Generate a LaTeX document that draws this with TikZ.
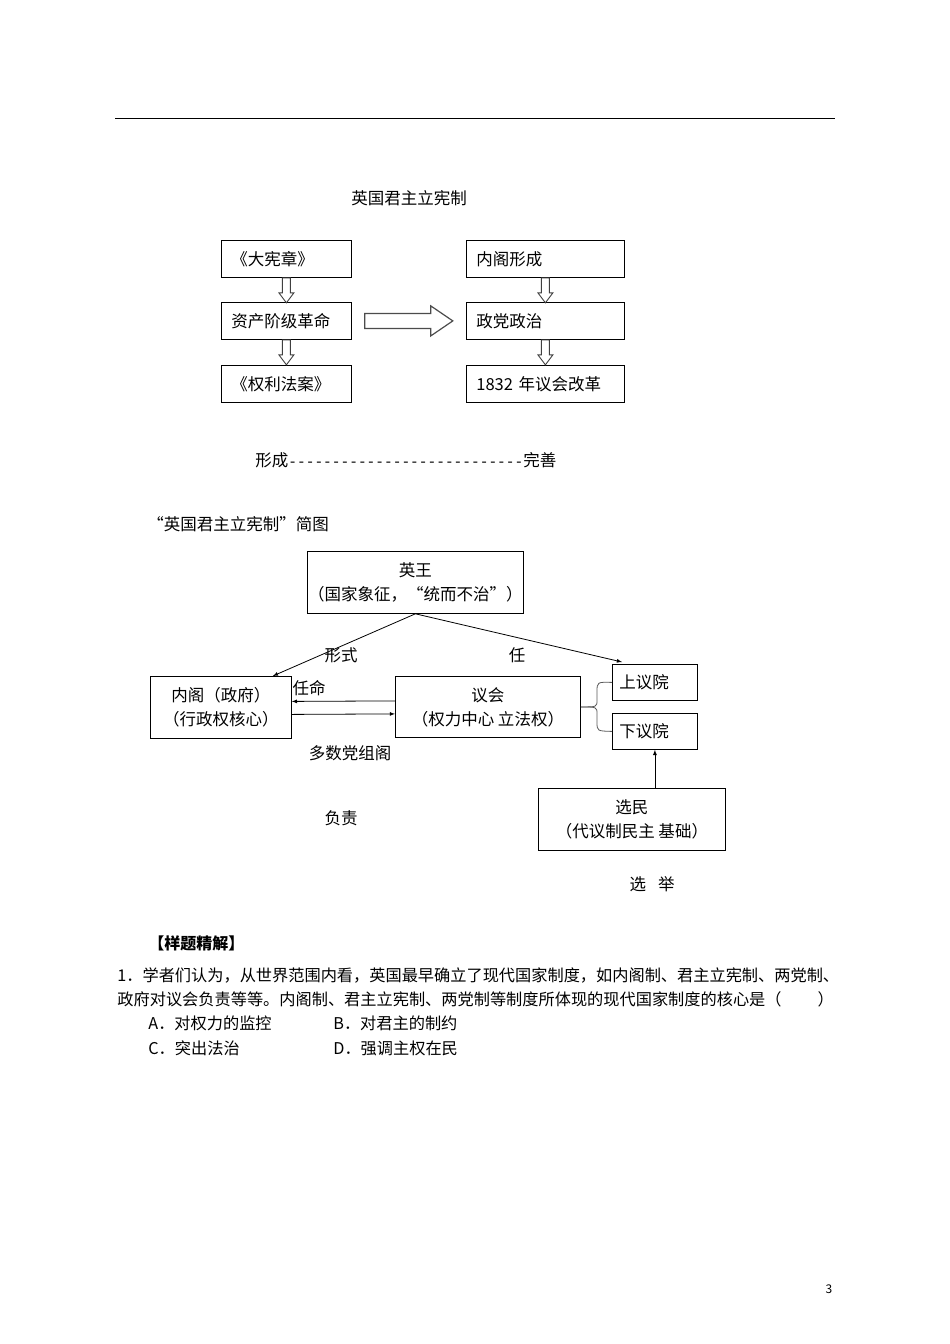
\documentclass[tikz,border=0pt]{standalone}
\usepackage{fontspec}
\setmainfont{Noto Sans CJK SC}
\newfontfamily\dashfont{Liberation Mono}
\usetikzlibrary{calc}

\tikzset{
  box/.style={draw, inner sep=0pt, anchor=north west},
  lbox/.style={box, minimum width=130pt, minimum height=37pt, text width=110pt, align=left, inner xsep=10pt},
  rbox/.style={box, minimum width=158pt, minimum height=37pt, text width=138pt, align=left, inner xsep=10pt},
  hbox/.style={box, minimum width=85pt, minimum height=36pt, text width=71pt, align=left, inner xsep=7pt},
  cbox/.style={box, align=center, inner sep=0pt, font=\fontsize{16.5}{24}\selectfont},
  label/.style={inner sep=0pt},
  hollowdown/.pic={
    \draw[gray!50!black, line width=0.9pt] (-4,0) -- (4,0) -- (4,15) -- (7.5,15)
      -- (0,25) -- (-7.5,15) -- (-4,15) -- cycle;
  },
  hollowright/.pic={
    \draw[gray!60!black, line width=1.2pt] (0,-7.5) -- (66,-7.5) -- (66,-15) -- (88,0)
      -- (66,15) -- (66,7.5) -- (0,7.5) -- cycle;
  }
}

\begin{document}
\begin{tikzpicture}[x=1pt, y=-1pt, line width=0.8pt,
    font=\fontsize{16.5}{22}\selectfont, >={latex}]
    \fill[white] (0,0) rectangle (950,1344);
    \useasboundingbox (0,0) rectangle (950,1344);
    % Header rule
    \draw (115,118) -- (835,118);
    % First chart
    \node[label] (title) at (409,198) {英国君主立宪制};
    \node[lbox] (dxz) at (221,240) {《大宪章》};
    \node[lbox] (zcgm) at (221,302) {资产阶级革命};
    \node[lbox] (qlfa) at (221,365) {《权利法案》};
    \node[rbox] (nbxc) at (466,240) {内阁形成};
    \node[rbox] (zdzz) at (466,302) {政党政治};
    \node[rbox] (yhgg) at (466,365) {1832 年议会改革};
    \pic at (dxz.south) {hollowdown};
    \pic at (zcgm.south) {hollowdown};
    \pic at (nbxc.south) {hollowdown};
    \pic at (zdzz.south) {hollowdown};
    \pic at ($(zcgm.east)+(13,0)$) {hollowright};
    \node[label, anchor=west] (xc) at (255,460) {形成{\dashfont\fontsize{14.5}{20}\selectfont ---------------------------}完善};
    % Second chart
    \node[label, anchor=west] (title2) at (147,524) {“英国君主立宪制”简图};
    \node[cbox, minimum width=216pt, minimum height=62pt] (king) at (307,551)
        {英王\\（国家象征，“统而不治”）};
    \node[cbox, minimum width=141pt, minimum height=62pt] (cab) at (150,676)
        {内阁（政府）\\（行政权核心）};
    \node[cbox, minimum width=185pt, minimum height=61pt] (parl) at (395,676)
        {议会\\（权力中心 立法权）};
    \node[hbox] (upper) at (612,664) {上议院};
    \node[hbox] (lower) at (612,713) {下议院};
    \node[cbox, minimum width=187pt, minimum height=62pt] (voter) at (538,788)
        {选民\\（代议制民主 基础）};
    % Labels
    \node[label] (xs) at (341,655) {形式};
    \node[label] (ren) at (517,655) {任};
    \node[label] (rm) at (309,688) {任命};
    \node[label] (dsd) at (350,753) {多数党组阁};
    \node[label] (fz) at (341,818) {负责};
    \node[label] (xj) at (652,884) {选\hspace{12pt}举};
    % Connectors
    \coordinate (kc) at ($(cab.north east)+(-19,0)$);
    \coordinate (uc) at ($(upper.north west)+(10,-2)$);
    \draw[->] (king.south) -- (kc);
    \draw[->] (king.south) -- (uc);
    \draw[->] ($(parl.west)+(0,-6)$) -- ($(cab.east)+(0,-6)$);
    \draw[->] ($(cab.east)+(0,7)$) -- ($(parl.west)+(0,7)$);
    \draw[->] (lower.south |- voter.north) -- (lower.south);
    % Brace
    \draw[gray!70!black] (upper.west) .. controls (597,682) .. (597,692) -- (597,700)
        .. controls (597,707) .. (parl.east);
    \draw[gray!70!black] (parl.east) .. controls (597,707) .. (597,714) -- (597,722)
        .. controls (597,731) .. (lower.west);
    % Question
    \node[label, anchor=west, font=\fontsize{16}{22}\bfseries] (yt) at (148,943) {【样题精解】};
    \node[label, anchor=west, font=\fontsize{16.2}{22}\selectfont] (q1) at (117,975)
        {1．学者们认为，从世界范围内看，英国最早确立了现代国家制度，如内阁制、君主立宪制、两党制、};
    \node[label, anchor=west, font=\fontsize{16.2}{22}\selectfont] (q2) at (117,999)
        {政府对议会负责等等。内阁制、君主立宪制、两党制等制度所体现的现代国家制度的核心是（\hspace{36pt}）};
    \node[label, anchor=west, font=\fontsize{16.2}{22}\selectfont] (oa) at (148,1023) {A．对权力的监控};
    \node[label, anchor=west, font=\fontsize{16.2}{22}\selectfont] (ob) at (333,1023) {B．对君主的制约};
    \node[label, anchor=west, font=\fontsize{16.2}{22}\selectfont] (oc) at (148,1048) {C．突出法治};
    \node[label, anchor=west, font=\fontsize{16.2}{22}\selectfont] (od) at (333,1048) {D．强调主权在民};
    % Page number
    \node[label, font=\fontsize{12}{14}\selectfont] (pg) at (829,1289) {3};
\end{tikzpicture}
\end{document}
